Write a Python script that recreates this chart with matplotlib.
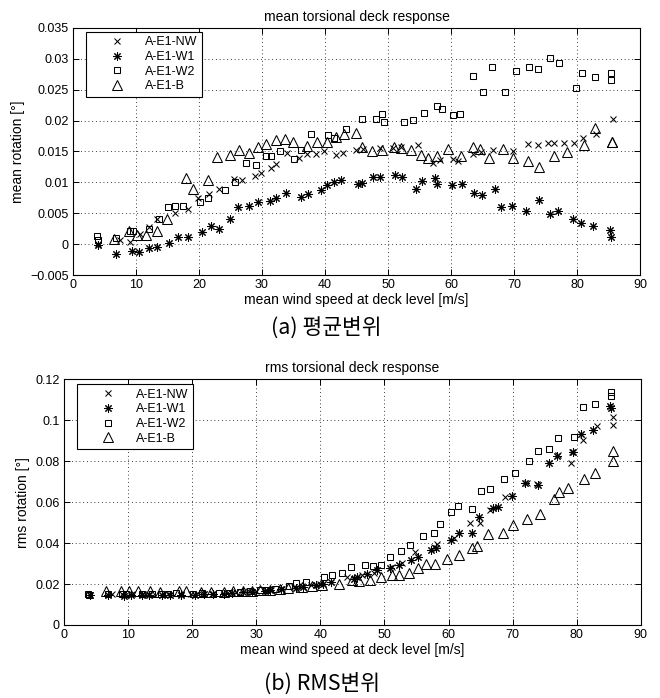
import matplotlib
matplotlib.use("Agg")
import matplotlib.pyplot as plt
from matplotlib.ticker import FuncFormatter

plt.rcParams['font.family'] = ['Liberation Sans', 'DejaVu Sans']

labels = ["A-E1-NW", "A-E1-W1", "A-E1-W2", "A-E1-B"]

# ---- (a) mean torsional response ----
nw_x = [4.0, 7.5, 9.1, 10.6, 12.1, 13.3, 16.2, 18.2, 19.8, 21.6, 23.1, 25.5, 26.9, 28.9, 29.9, 31.5, 32.3, 34.0,
        35.9, 37.2, 38.6, 39.9, 41.8, 42.8, 44.9, 46.0, 48.7, 50.8, 52.0, 54.8, 57.1, 58.2, 60.3, 61.1, 63.5, 64.8,
        66.6, 69.8, 72.2, 73.8, 75.4, 76.3, 78.0, 79.6, 81.0, 83.1, 85.7]
nw_mean = [0.0, 0.0006, 0.0004, 0.0016, 0.0028, 0.004, 0.005, 0.0057, 0.0074, 0.0081, 0.009, 0.0105, 0.0103, 0.011,
           0.0115, 0.0123, 0.013, 0.0148, 0.0139, 0.0146, 0.0146, 0.0151, 0.0144, 0.0147, 0.0152, 0.0154, 0.0156,
           0.0155, 0.0157, 0.016, 0.0131, 0.0136, 0.0138, 0.0135, 0.0146, 0.0149, 0.0152, 0.0151, 0.0162, 0.0161,
           0.0164, 0.0163, 0.0163, 0.0164, 0.0172, 0.0179, 0.0202]

w1_x = [4.0, 6.8, 9.3, 10.5, 12.1, 13.3, 15.3, 16.6, 18.2, 20.5, 21.9, 23.2, 24.9, 26.2, 27.9, 29.4, 31.3, 32.2,
        33.8, 36.2, 37.3, 39.3, 40.4, 41.5, 42.6, 45.2, 45.8, 47.6, 48.7, 51.1, 52.2, 54.4, 55.4, 57.4, 57.8, 60.2,
        61.7, 63.6, 64.9, 67.0, 68.0, 69.7, 71.9, 74.0, 75.8, 77.0, 79.4, 80.7, 82.5, 85.2, 85.4]
w1_mean = [-0.0002, -0.0016, -0.0011, -0.0012, -0.0007, -0.0004, 0.0002, 0.0012, 0.0012, 0.002, 0.0029, 0.0024,
           0.0041, 0.006, 0.0062, 0.0069, 0.007, 0.0074, 0.0083, 0.0076, 0.0081, 0.0087, 0.0095, 0.0101, 0.0104,
           0.0098, 0.0099, 0.0109, 0.0108, 0.0112, 0.0108, 0.009, 0.0102, 0.0107, 0.0098, 0.0096, 0.0097, 0.0083,
           0.008, 0.009, 0.006, 0.0062, 0.0053, 0.0071, 0.0048, 0.0053, 0.0041, 0.0035, 0.003, 0.0023, 0.0012]

w2_x = [3.8, 3.9, 6.9, 9.0, 9.6, 12.1, 13.7, 15.1, 16.2, 17.4, 20.1, 21.5, 24.2, 25.7, 27.5, 29.0, 30.6, 31.5,
        32.9, 35.1, 36.2, 37.8, 40.5, 41.5, 43.4, 45.9, 48.1, 49.0, 49.3, 52.6, 53.9, 55.8, 57.8, 58.6, 60.4, 61.4,
        63.5, 65.1, 66.5, 68.5, 70.4, 72.4, 73.8, 75.7, 77.1, 79.8, 80.8, 82.8, 85.4, 85.4]
w2_mean = [0.0013, 0.0007, 0.001, 0.0021, 0.0022, 0.0024, 0.0041, 0.006, 0.0061, 0.0061, 0.0068, 0.0075, 0.0087,
           0.0101, 0.0132, 0.0128, 0.0142, 0.0142, 0.015, 0.0138, 0.0152, 0.0179, 0.0177, 0.0172, 0.0186, 0.0203,
           0.0203, 0.0211, 0.0197, 0.0198, 0.0201, 0.0213, 0.0224, 0.0218, 0.0209, 0.021, 0.0272, 0.0247, 0.0287,
           0.0247, 0.028, 0.0286, 0.0284, 0.0301, 0.0293, 0.0253, 0.0277, 0.0271, 0.0277, 0.0265]

b_x = [6.5, 8.9, 10.2, 11.6, 13.4, 15.0, 18.0, 19.1, 21.4, 22.9, 25.0, 26.4, 28.0, 29.4, 30.6, 32.2, 33.7, 35.0,
       37.1, 38.7, 40.3, 41.7, 43.0, 45.0, 45.9, 47.4, 49.0, 51.0, 52.1, 53.6, 55.3, 56.3, 57.8, 59.5, 61.6, 63.5,
       64.6, 66.0, 68.3, 69.9, 72.3, 73.9, 76.3, 78.4, 81.1, 82.8, 85.6, 85.6]
b_mean = [0.0009, 0.0022, 0.0015, 0.0014, 0.0021, 0.0041, 0.0107, 0.009, 0.0104, 0.0141, 0.0145, 0.0153, 0.0148,
          0.0157, 0.0162, 0.0168, 0.017, 0.0165, 0.0159, 0.0165, 0.0166, 0.0173, 0.0178, 0.018, 0.0157, 0.015,
          0.0152, 0.0158, 0.0155, 0.0152, 0.0145, 0.0139, 0.0142, 0.0154, 0.0142, 0.0158, 0.0154, 0.014, 0.0154,
          0.0139, 0.0135, 0.0125, 0.0142, 0.0149, 0.0161, 0.0188, 0.0166, 0.0165]

# ---- (b) rms torsional response ----
nw_rx = [4.0, 7.5, 9.1, 10.6, 12.1, 13.3, 16.2, 18.2, 19.8, 21.6, 23.1, 25.5, 26.9, 28.9, 29.9, 31.5, 32.3, 34.0,
         35.9, 37.2, 38.6, 39.9, 44.2, 46.5, 48.3, 51.2, 52.8, 54.8, 57.7, 58.2, 60.9, 63.3, 64.9, 66.5, 68.8, 72.2,
         73.8, 77.0, 79.1, 79.3, 80.9, 83.1, 85.7, 85.7]
nw_rms = [0.0148, 0.0152, 0.015, 0.0152, 0.015, 0.0151, 0.015, 0.0152, 0.0153, 0.0152, 0.0153, 0.0157, 0.016,
          0.0165, 0.0166, 0.017, 0.0172, 0.0178, 0.0185, 0.019, 0.0195, 0.02, 0.0235, 0.0243, 0.0254, 0.0284,
          0.0305, 0.0356, 0.0382, 0.0398, 0.0423, 0.0496, 0.0499, 0.0561, 0.0626, 0.0692, 0.0688, 0.083, 0.0793,
          0.0847, 0.0904, 0.0972, 0.1015, 0.0976]

w1_rx = [4.0, 6.8, 9.3, 10.5, 12.1, 13.3, 15.3, 16.6, 18.2, 20.5, 21.9, 23.2, 24.9, 26.2, 27.9, 29.4, 31.3, 32.2,
         33.8, 36.2, 37.3, 39.3, 40.4, 41.6, 45.2, 45.7, 47.3, 48.8, 50.8, 52.2, 54.2, 55.3, 57.2, 58.0, 60.3, 61.6,
         63.6, 64.8, 67.0, 67.7, 69.9, 72.0, 73.9, 75.6, 76.9, 79.4, 80.6, 82.6, 85.2, 85.4]
w1_rms = [0.0145, 0.0147, 0.0143, 0.0145, 0.0146, 0.0146, 0.0147, 0.0147, 0.0148, 0.0148, 0.015, 0.015, 0.0152,
          0.0155, 0.016, 0.0163, 0.0167, 0.017, 0.0175, 0.0183, 0.0187, 0.0195, 0.02, 0.021, 0.0227, 0.0235,
          0.0248, 0.0268, 0.0276, 0.0292, 0.0316, 0.0333, 0.0365, 0.0378, 0.0414, 0.045, 0.045, 0.0525, 0.0573,
          0.0577, 0.0631, 0.0692, 0.0684, 0.079, 0.0825, 0.0843, 0.0933, 0.0953, 0.107, 0.1059]

w2_rx = [3.8, 3.9, 6.9, 9.0, 9.6, 12.1, 13.7, 15.1, 16.2, 17.4, 20.1, 21.5, 24.2, 25.7, 27.5, 29.0, 30.6, 31.5,
         32.9, 35.1, 36.2, 37.8, 40.5, 41.8, 43.4, 44.7, 46.9, 48.2, 49.4, 50.9, 52.6, 54.0, 56.0, 57.7, 58.7, 60.4,
         61.5, 63.6, 65.1, 66.5, 68.6, 70.4, 72.5, 73.9, 75.7, 77.1, 79.6, 80.9, 82.8, 85.3, 85.3]
w2_rms = [0.0153, 0.0148, 0.0152, 0.0152, 0.015, 0.0152, 0.0153, 0.0152, 0.0153, 0.0154, 0.0153, 0.0155, 0.0156,
          0.0158, 0.0163, 0.0168, 0.017, 0.0173, 0.0178, 0.0192, 0.0203, 0.021, 0.0233, 0.0246, 0.0256, 0.0284,
          0.0292, 0.029, 0.0295, 0.033, 0.0359, 0.039, 0.0436, 0.045, 0.0491, 0.0553, 0.0581, 0.0566, 0.0654,
          0.0664, 0.0711, 0.0741, 0.0801, 0.085, 0.086, 0.0912, 0.092, 0.1067, 0.108, 0.112, 0.1139]

b_rx = [6.5, 8.9, 10.2, 11.6, 13.4, 15.0, 18.0, 19.1, 21.4, 22.9, 25.0, 26.4, 28.0, 29.4, 30.6, 32.2, 33.7, 35.0,
        37.1, 38.7, 40.3, 42.9, 45.0, 46.0, 47.7, 49.4, 51.1, 52.2, 53.8, 55.3, 56.5, 57.9, 59.7, 61.6, 63.6, 64.4,
        66.1, 68.5, 70.0, 72.3, 74.2, 76.5, 77.3, 78.7, 81.1, 82.8, 85.6, 85.6]
b_rms = [0.0168, 0.0168, 0.0167, 0.0166, 0.0165, 0.0163, 0.0164, 0.0165, 0.0163, 0.0162, 0.0163, 0.0164, 0.0167,
         0.0168, 0.017, 0.0173, 0.0176, 0.018, 0.0185, 0.0191, 0.0197, 0.0202, 0.0219, 0.0215, 0.0222, 0.0235,
         0.0243, 0.0246, 0.0254, 0.0276, 0.03, 0.03, 0.032, 0.0341, 0.0378, 0.0387, 0.0444, 0.045, 0.0488, 0.052,
         0.054, 0.0613, 0.0651, 0.0667, 0.0711, 0.0741, 0.0803, 0.085]

markers = ['x', (8, 2, 0), 's', '^']
msizes = [4.5, 6.0, 5.0, 6.5]


def fmt(v, pos):
    s = "%g" % round(v, 6)
    return s.replace("-", "\u2212")


def draw(ax, series, title, ylabel, ylim, yticks, leg_anchor):
    for (x, y), m, ms, lab in zip(series, markers, msizes, labels):
        ax.plot(x, y, linestyle='none', marker=m, markersize=ms, mfc='none', mec='k',
                mew=0.75, label=lab)
    ax.set_xlim(0, 90)
    ax.set_ylim(*ylim)
    ax.set_xticks(range(0, 91, 10))
    ax.set_yticks(yticks)
    ax.yaxis.set_major_formatter(FuncFormatter(fmt))
    ax.grid(True, color='k', linestyle=(0, (1, 3.5)), linewidth=0.6)
    ax.tick_params(direction='in', top=True, right=True, length=4, width=0.7, labelsize=9, pad=3)
    for sp in ax.spines.values():
        sp.set_linewidth(0.8)
    ax.set_title(title, fontsize=10, pad=5)
    ax.set_xlabel("mean wind speed at deck level [m/s]", fontsize=10, labelpad=1)
    ax.set_ylabel(ylabel, fontsize=10, labelpad=4)
    leg = ax.legend(loc='upper left', bbox_to_anchor=leg_anchor, borderaxespad=0, fontsize=9,
                    fancybox=False, edgecolor='k', framealpha=1, handlelength=4.2, handletextpad=0.2,
                    labelspacing=0.22, borderpad=0.35)
    leg.get_frame().set_linewidth(0.8)


fig = plt.figure(figsize=(6.6, 6.98), dpi=100)

ax1 = fig.add_axes([0.1106, 0.606, 0.859, 0.354])
draw(ax1, [(nw_x, nw_mean), (w1_x, w1_mean), (w2_x, w2_mean), (b_x, b_mean)],
     "mean torsional deck response", "mean rotation [°]", (-0.005, 0.035),
     [-0.005, 0, 0.005, 0.01, 0.015, 0.02, 0.025, 0.03, 0.035], (0.023, 0.984))

ax2 = fig.add_axes([0.097, 0.1046, 0.874, 0.352])
draw(ax2, [(nw_rx, nw_rms), (w1_rx, w1_rms), (w2_rx, w2_rms), (b_rx, b_rms)],
     "rms torsional deck response", "rms rotation [°]", (0, 0.12),
     [0, 0.02, 0.04, 0.06, 0.08, 0.1, 0.12], (0.0225, 0.98))

cap = ['Noto Sans CJK KR', 'DejaVu Sans']
fig.text(0.495, 0.530, "(a) 평균변위", ha='center', va='center', fontsize=15.5, family=cap)
fig.text(0.488, 0.005, "(b) RMS변위", ha='center', va='bottom', fontsize=15.5, family=cap)

fig.savefig("out.png", dpi=100)
